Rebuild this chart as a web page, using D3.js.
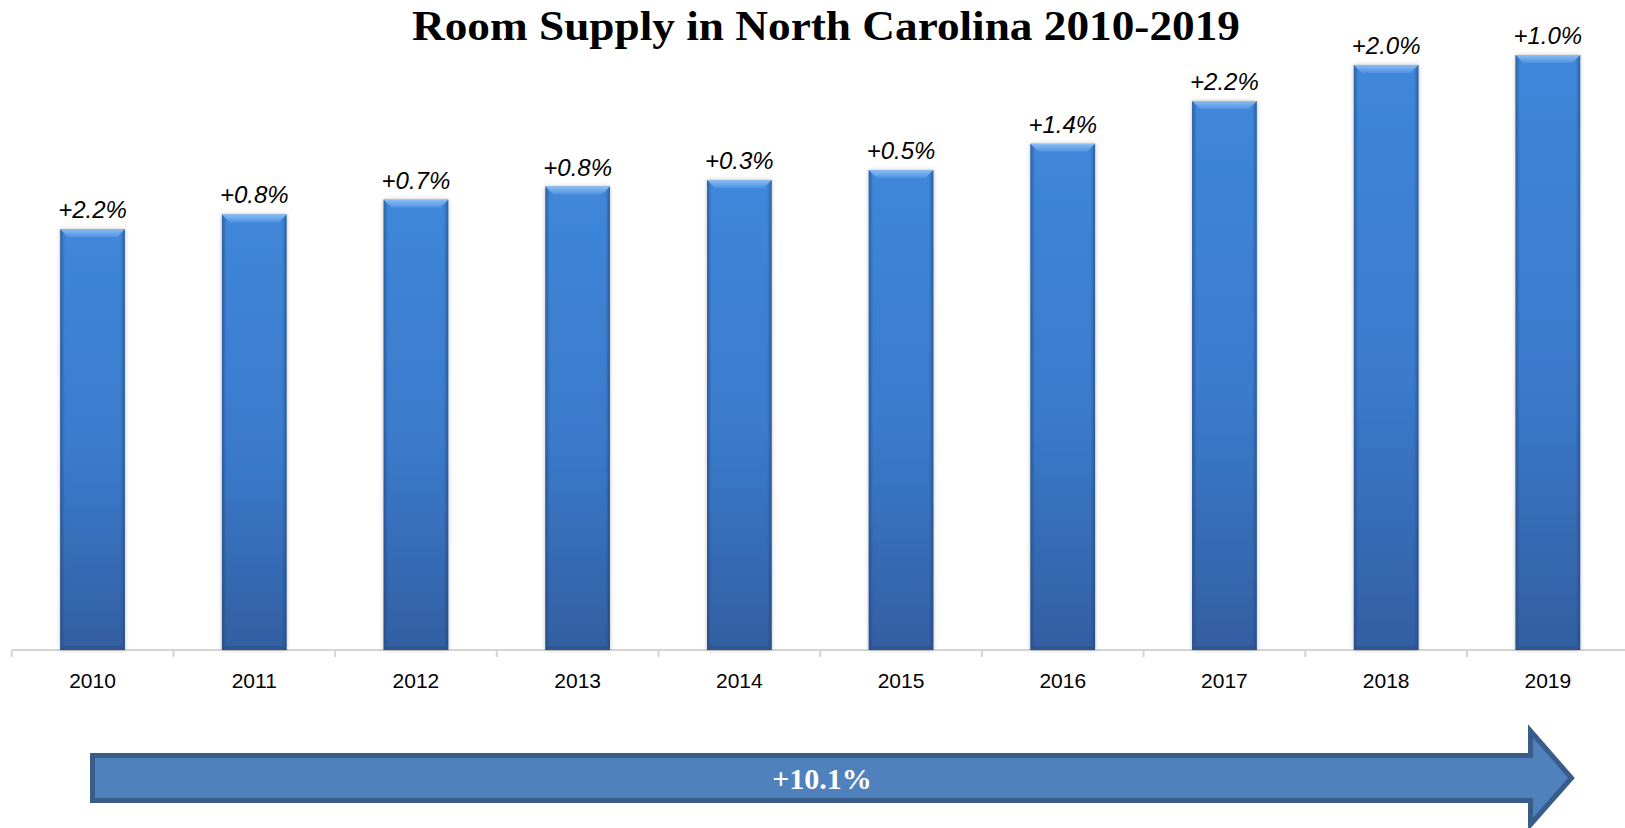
<html>
<head>
    <style>
        body { margin: 0; background: #fff; }
        .title {
            font-family: "Liberation Serif", serif;
            font-weight: bold;
            fill: #000;
        }
        .growth {
            font-family: "Liberation Sans", sans-serif;
            font-style: italic;
            font-size: 24px;
            text-anchor: middle;
            fill: #000;
        }
        .axis text {
            font-family: "Liberation Sans", sans-serif;
            font-size: 21px;
            fill: #000;
        }
        .total {
            font-family: "Liberation Serif", serif;
            font-weight: bold;
            font-size: 30px;
            fill: #fff;
            text-anchor: middle;
        }
    </style>
    <script src="https://d3js.org/d3.v7.min.js"></script>
</head>
<body>
    <svg width="1625" height="828"></svg>
    <script>
        // room supply, millions of room nights
        var years = ["2010", "2011", "2012", "2013", "2014", "2015", "2016", "2017", "2018", "2019"];
        var supply = [52.8, 53.25, 53.7, 54.1, 54.3, 54.6, 55.4, 56.7, 57.8, 58.1];
        var growth = ["+2.2%", "+0.8%", "+0.7%", "+0.8%", "+0.3%", "+0.5%", "+1.4%", "+2.2%", "+2.0%", "+1.0%"];
        var totalGrowth = "+10.1%";

        var data = years.map(function(y, i) {
            return { year: y, value: supply[i], label: growth[i] };
        });

        var svg = d3.select("svg"),
            axisY = 650;

        var x = d3.scaleBand()
                  .domain(years)
                  .range([11.7, 1628.7])
                  .paddingInner(0.6)
                  .paddingOuter(0.3);

        var y = d3.scaleLinear()
                  .domain([40, 60])
                  .range([axisY, axisY - 20 * 32.87]);

        var defs = svg.append("defs");

        var body = defs.append("linearGradient")
                       .attr("id", "body").attr("x1", 0).attr("y1", 0).attr("x2", 0).attr("y2", 1);
        body.append("stop").attr("offset", "0%").attr("stop-color", "#3f87da");
        body.append("stop").attr("offset", "55%").attr("stop-color", "#3a7acb");
        body.append("stop").attr("offset", "100%").attr("stop-color", "#335fa2");

        var sides = defs.append("linearGradient")
                        .attr("id", "sides").attr("x1", 0).attr("y1", 0).attr("x2", 1).attr("y2", 0);
        sides.append("stop").attr("offset", "0%").attr("stop-color", "#1f3f70").attr("stop-opacity", 0.55);
        sides.append("stop").attr("offset", "7%").attr("stop-color", "#1f3f70").attr("stop-opacity", 0);
        sides.append("stop").attr("offset", "93%").attr("stop-color", "#1f3f70").attr("stop-opacity", 0);
        sides.append("stop").attr("offset", "100%").attr("stop-color", "#1f3f70").attr("stop-opacity", 0.55);

        var bevel = defs.append("linearGradient")
                        .attr("id", "bevel").attr("x1", 0).attr("y1", 0).attr("x2", 0).attr("y2", 1);
        bevel.append("stop").attr("offset", "0%").attr("stop-color", "#8cbdf2");
        bevel.append("stop").attr("offset", "100%").attr("stop-color", "#4d92e2");

        var shadow = defs.append("filter").attr("id", "shadow")
                         .attr("x", "-20%").attr("y", "-5%").attr("width", "140%").attr("height", "110%");
        shadow.append("feDropShadow").attr("dx", 0).attr("dy", 0).attr("stdDeviation", 2)
              .attr("flood-color", "#000").attr("flood-opacity", 0.25);

        // title
        svg.append("text")
           .attr("class", "title")
           .attr("x", 826)
           .attr("y", 40)
           .attr("text-anchor", "middle")
           .attr("font-size", 42)
           .attr("textLength", 828)
           .attr("lengthAdjust", "spacingAndGlyphs")
           .text("Room Supply in North Carolina 2010-2019");

        // axis line and ticks at band boundaries
        var axis = svg.append("g").attr("class", "axis");
        var edges = years.map(function(d) { return x(d) - x.step() * x.paddingInner() / 2; });
        edges.push(edges[edges.length - 1] + x.step());

        axis.append("line")
            .attr("x1", edges[0]).attr("x2", edges[edges.length - 1])
            .attr("y1", axisY).attr("y2", axisY)
            .attr("stroke", "#d4d4d4").attr("stroke-width", 2);

        axis.selectAll(".tick-line")
            .data(edges)
            .enter().append("line")
            .attr("x1", function(d) { return d; }).attr("x2", function(d) { return d; })
            .attr("y1", axisY).attr("y2", axisY + 7)
            .attr("stroke", "#d4d4d4").attr("stroke-width", 2);

        axis.selectAll(".year")
            .data(years)
            .enter().append("text")
            .attr("x", function(d) { return x(d) + x.bandwidth() / 2; })
            .attr("y", 687.5)
            .attr("text-anchor", "middle")
            .text(function(d) { return d; });

        // bars
        var bar = svg.selectAll(".bar")
                     .data(data)
                     .enter().append("g")
                     .attr("class", "bar");

        bar.append("rect")
           .attr("x", function(d) { return x(d.year); })
           .attr("y", function(d) { return y(d.value); })
           .attr("width", x.bandwidth())
           .attr("height", function(d) { return axisY - y(d.value); })
           .attr("fill", "url(#body)")
           .attr("filter", "url(#shadow)");

        bar.append("rect")
           .attr("x", function(d) { return x(d.year); })
           .attr("y", function(d) { return y(d.value); })
           .attr("width", x.bandwidth())
           .attr("height", function(d) { return axisY - y(d.value); })
           .attr("fill", "url(#sides)");

        var bv = 8;
        bar.append("path")
           .attr("d", function(d) {
               var x0 = x(d.year), x1 = x0 + x.bandwidth(), t = y(d.value);
               return "M" + x0 + "," + t + "L" + x1 + "," + t +
                      "L" + (x1 - bv) + "," + (t + bv) + "L" + (x0 + bv) + "," + (t + bv) + "Z";
           })
           .attr("fill", "url(#bevel)");

        bar.append("path")
           .attr("d", function(d) {
               var x0 = x(d.year), x1 = x0 + x.bandwidth(), b = axisY;
               return "M" + x0 + "," + b + "L" + x1 + "," + b +
                      "L" + (x1 - 4) + "," + (b - 4) + "L" + (x0 + 4) + "," + (b - 4) + "Z";
           })
           .attr("fill", "#2a5088").attr("opacity", 0.6);

        bar.append("text")
           .attr("class", "growth")
           .attr("x", function(d) { return x(d.year) + x.bandwidth() / 2; })
           .attr("y", function(d) { return y(d.value) - 11; })
           .text(function(d) { return d.label; });

        // total growth arrow
        var arrow = svg.append("g");
        arrow.append("path")
             .attr("d", "M92.5,755.5 H1530.5 V731 L1571.5,778 L1530.5,824.5 V800.5 H92.5 Z")
             .attr("fill", "#4f81bd")
             .attr("stroke", "#385d8a")
             .attr("stroke-width", 5)
             .attr("stroke-linejoin", "miter");

        arrow.append("text")
             .attr("class", "total")
             .attr("x", 822)
             .attr("y", 789)
             .text(totalGrowth);
    </script>
</body>
</html>
